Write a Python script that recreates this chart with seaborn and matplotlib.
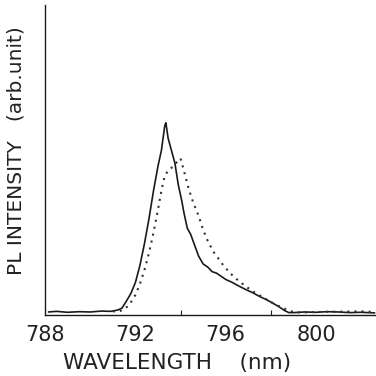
import matplotlib
matplotlib.use("Agg")
import matplotlib.pyplot as plt
import seaborn as sns
import numpy as np

# Solid trace (nm, intensity)
solid_nm = [788.15, 788.5, 789.0, 789.5, 790.0, 790.5, 790.9, 791.2, 791.4, 791.6,
            791.8, 792.0, 792.2, 792.4, 792.6, 792.8, 793.0, 793.15, 793.3, 793.35,
            793.45, 793.6, 793.75, 793.9, 794.05, 794.15, 794.3, 794.45, 794.6, 794.8,
            795.0, 795.2, 795.4, 795.6, 795.8, 796.0, 796.3, 796.6, 796.9, 797.2,
            797.5, 797.8, 798.1, 798.4, 798.6, 798.8, 799.0, 799.5, 800.0, 800.5,
            801.0, 801.5, 802.0, 802.6]
solid_val = [0.010, 0.012, 0.009, 0.011, 0.010, 0.013, 0.012, 0.016, 0.022, 0.045,
             0.070, 0.105, 0.160, 0.230, 0.310, 0.400, 0.480, 0.530, 0.610, 0.620,
             0.570, 0.530, 0.490, 0.420, 0.370, 0.330, 0.280, 0.260, 0.230, 0.190,
             0.165, 0.155, 0.140, 0.135, 0.125, 0.115, 0.105, 0.093, 0.082, 0.072,
             0.060, 0.050, 0.038, 0.025, 0.015, 0.008, 0.008, 0.010, 0.009, 0.011,
             0.010, 0.008, 0.009, 0.007]

# Dotted trace
dot_nm = [791.0, 791.3, 791.5, 791.7, 792.0, 792.2, 792.4, 792.6, 792.8, 793.0,
          793.15, 793.3, 793.5, 793.7, 793.9, 794.0, 794.15, 794.35, 794.55, 794.8,
          795.0, 795.2, 795.45, 795.7, 795.9, 796.2, 796.5, 796.9, 797.3, 797.7,
          798.1, 798.5, 798.9, 799.3, 800.0, 801.0, 802.0, 802.6]
dot_val = [0.012, 0.012, 0.020, 0.030, 0.065, 0.100, 0.145, 0.200, 0.265, 0.340,
           0.400, 0.450, 0.470, 0.480, 0.500, 0.505, 0.465, 0.410, 0.365, 0.320,
           0.275, 0.240, 0.205, 0.180, 0.160, 0.135, 0.115, 0.092, 0.072, 0.055,
           0.038, 0.024, 0.012, 0.008, 0.010, 0.011, 0.012, 0.010]

label_ticks = [788, 792, 796, 800]
minor_ticks = [792, 794, 796, 798]

sns.set_style("ticks")
plt.rcParams['font.family'] = ['DejaVu Sans']

fig = plt.figure(figsize=(3.76, 3.76), dpi=100)
ax = fig.add_axes([0.12, 0.162, 0.88, 0.825])

sns.lineplot(x=solid_nm, y=solid_val, ax=ax, color="#1a1a1a", linewidth=1.2)
sns.lineplot(x=dot_nm, y=dot_val, ax=ax, color="#333333", linewidth=1.5,
             linestyle=(0, (1, 2.4)))

ax.set_xlim(788.14, 802.66)
ax.set_ylim(0, 1.0)
sns.despine(ax=ax, top=True, right=True)
for s in ["left", "bottom"]:
    ax.spines[s].set_linewidth(1.0)
    ax.spines[s].set_color("#1a1a1a")

ax.set_xticks(label_ticks)
ax.set_xticklabels([str(t) for t in label_ticks])
ax.set_xticks(minor_ticks, minor=True)
ax.tick_params(axis="x", which="major", length=0, pad=7, labelsize=15, colors="#222222")
ax.tick_params(axis="x", which="minor", direction="in", length=3.5, width=0.8, color="#222222")
ax.set_yticks([])

ax.set_xlabel("WAVELENGTH    (nm)", fontsize=15.5, color="#222222", va="center")
ax.xaxis.set_label_coords(0.40, -0.155)
ax.set_ylabel("PL INTENSITY   (arb.unit)", fontsize=14.5, color="#222222", va="center")
ax.yaxis.set_label_coords(-0.087, 0.53)

fig.savefig("out.png", dpi=100)
